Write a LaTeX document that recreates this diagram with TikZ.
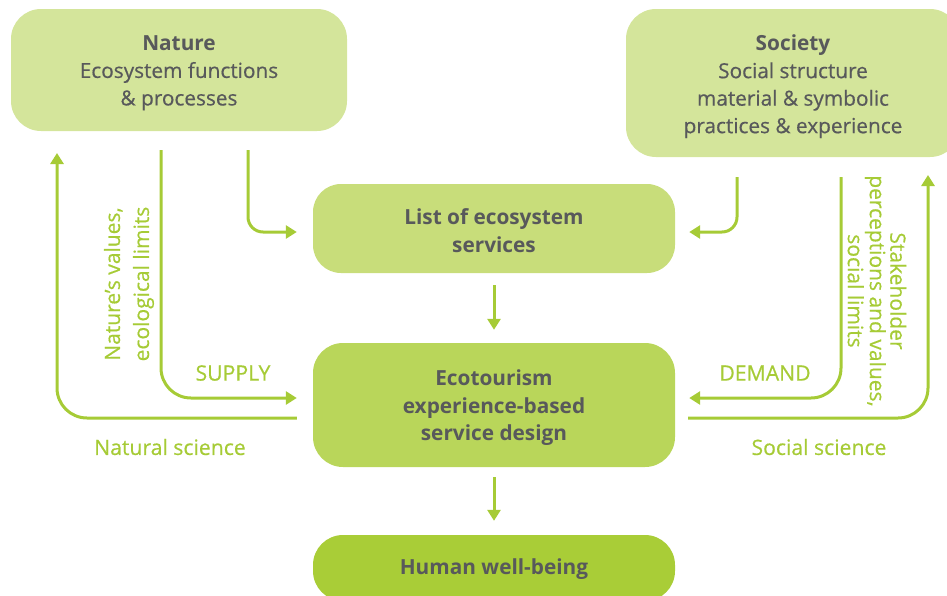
\documentclass[tikz,border=0pt]{standalone}
\usepackage{fontspec}
\setmainfont{Open Sans}[UprightFeatures={FakeBold=0.5}]
\usetikzlibrary{arrows.meta,calc}

\definecolor{boxlight}{HTML}{D4E59B}
\definecolor{boxlist}{HTML}{C8DD7A}
\definecolor{boxeco}{HTML}{B9D65A}
\definecolor{boxhuman}{HTML}{A9CD37}
\definecolor{flowgreen}{HTML}{A6CB36}
\definecolor{textgray}{HTML}{58595B}

\tikzset{
  box/.style={rounded corners=30pt, inner sep=0pt},
  boxtext/.style={inner sep=0pt, align=center, text=textgray,
    font=\fontsize{20.8}{27.5}\selectfont},
  flow/.style={draw=flowgreen, line width=3pt,
    -{Triangle[length=11pt,width=13pt]}},
  lbl/.style={text=flowgreen, inner sep=0pt,
    font=\fontsize{21.2}{27}\selectfont},
}

\begin{document}
\begin{tikzpicture}[x=1pt,y=-1pt]
\useasboundingbox (0,0) rectangle (947,595);

% boxes
\node[box, fill=boxlight, minimum width=336pt, minimum height=122pt]
  (nature) at (179,70) {};
\node[box, fill=boxlight, minimum width=334pt, minimum height=148pt]
  (society) at (793,83) {};
\node[box, fill=boxlist, rounded corners=28pt, minimum width=362pt, minimum height=89pt]
  (list) at (494,228.5) {};
\node[box, fill=boxeco, minimum width=362pt, minimum height=124pt]
  (eco) at (494,405) {};
\node[box, fill=boxhuman, minimum width=362pt, minimum height=66pt]
  (human) at (494,568) {};

% box texts
\node[boxtext] (natureT) at ([shift={(0,3)}]nature.center)
  {\textbf{Nature}\\Ecosystem functions\\\& processes};
\node[boxtext] (societyT) at ([shift={(0,3.5)}]society.center)
  {\textbf{Society}\\Social structure\\material \& symbolic\\practices \& experience};
\node[boxtext] (listT) at ([shift={(0,2)}]list.center)
  {\textbf{List of ecosystem}\\\textbf{services}};
\node[boxtext] (ecoT) at ([shift={(0,3)}]eco.center)
  {\textbf{Ecotourism}\\\textbf{experience-based}\\\textbf{service design}};
\node[boxtext] (humanT) at ([shift={(0,1)}]human.center)
  {\textbf{Human well-being}};

% free ends of the science loops
\coordinate (natup) at (57,153);
\coordinate (socup) at (928,175);

% left side: supply from nature
\draw[flow, rounded corners=30pt] ([shift={(-18,19)}]nature.south)
  |- ([shift={(-16,-7)}]eco.west);
\draw[flow, rounded corners=15pt] ([shift={(69,19)}]nature.south)
  |- ([shift={(-16,3.5)}]list.west);
\draw[flow, rounded corners=30pt] ([shift={(-16,13)}]eco.west) -| (natup);

% right side: demand from society
\draw[flow, rounded corners=15pt] ([shift={(-56,20)}]society.south)
  |- ([shift={(14,3.5)}]list.east);
\draw[flow, rounded corners=30pt] ([shift={(48,20)}]society.south)
  |- ([shift={(14,-7)}]eco.east);
\draw[flow, rounded corners=30pt] ([shift={(13,13)}]eco.east) -| (socup);

% central chain
\draw[flow] ([shift={(0,12)}]list.south) -- ([shift={(0,-13)}]eco.north);
\draw[flow] ([shift={(0,10)}]eco.south) -- ([shift={(0,-14)}]human.north);

% labels
\node[lbl] (supply) at (233,373) {SUPPLY};
\node[lbl] (natsci) at (170,447) {Natural science};
\node[lbl] (demand) at (765,373) {DEMAND};
\node[lbl] (socsci) at (819,447) {Social science};
\node[lbl, rotate=90, align=center, font=\fontsize{21}{29}\selectfont]
  (natvals) at (129,284) {Nature's values,\\ecological limits};
\node[lbl, rotate=-90, align=center, font=\fontsize{21}{20.5}\selectfont]
  (stake) at (877,291) {Stakeholder\\perceptions and values,\\social limits};
\end{tikzpicture}
\end{document}
